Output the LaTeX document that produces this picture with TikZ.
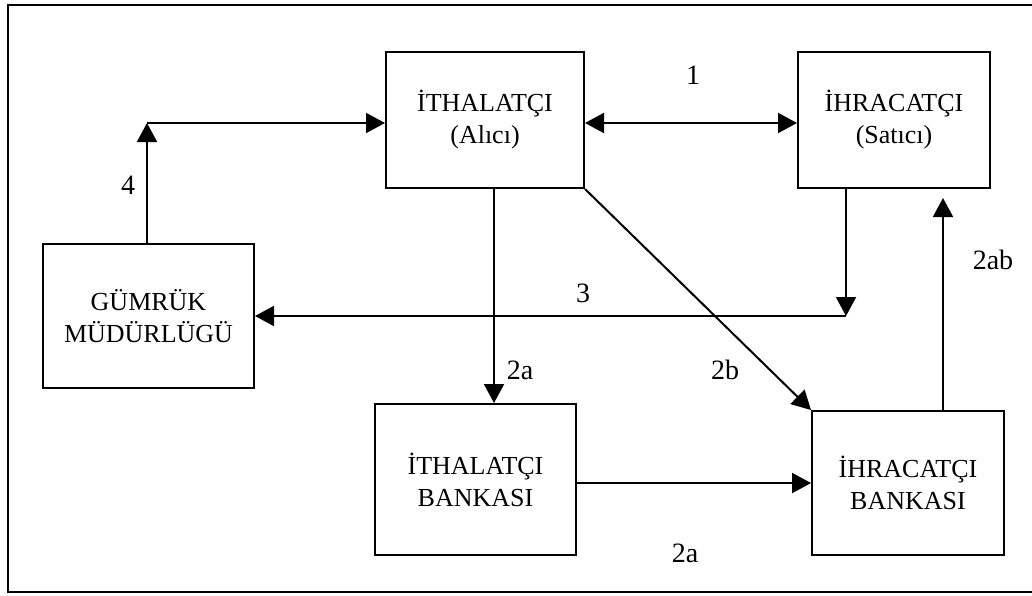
\documentclass[tikz,border=0pt]{standalone}
\usepackage{fontspec}
\setmainfont{Liberation Serif}
\usetikzlibrary{arrows.meta,positioning,calc}

\begin{document}
\begin{tikzpicture}[x=0.5pt,y=-0.5pt,
  >={Triangle[length=9.5pt,width=10pt]},
  kutu/.style={draw,line width=1pt,inner sep=0pt,align=center,
               font=\fontsize{13}{16}\selectfont},
  ok/.style={line width=1pt,->},
  etiket/.style={font=\fontsize{14}{16}\selectfont}]
\useasboundingbox (0,0) rectangle (1032,595);
\draw[line width=1pt] (1032,5) -- (8,5) -- (8,592) -- (1032,592);

\node[kutu,minimum width=99pt,minimum height=68pt] (ith) at (485,120) {İTHALATÇI\\(Alıcı)};
\node[kutu,minimum width=96pt,minimum height=68pt] (ihr) at (894,120) {İHRACATÇI\\(Satıcı)};
\node[kutu,minimum width=105.5pt,minimum height=72pt] (gum) at (148.5,316) {GÜMRÜK\\MÜDÜRLÜGÜ};
\node[kutu,minimum width=100.5pt,minimum height=75.5pt] (ithb) at (475.5,479.5) {İTHALATÇI\\BANKASI};
\node[kutu,minimum width=96pt,minimum height=72pt] (ihrb) at (908,483) {İHRACATÇI\\BANKASI};

\coordinate (k4) at (147,123);
\coordinate (k3) at (846,316);
\coordinate (k2a) at (494,0);
\coordinate (k2ab) at (943,0);

\draw[ok,<->] (ith.east |- k4) -- (ihr.west |- k4);
\draw[ok] (gum.north -| k4) -- (k4);
\draw[ok] (k4) -- (ith.west |- k4);
\draw[ok] (ihr.south -| k3) -- (k3);
\draw[ok] (k3) -- (gum.east |- k3);
\draw[ok] (ith.south -| k2a) -- (ithb.north -| k2a);
\draw[ok] (ith.south east) -- (ihrb.north west);
\draw[ok] (ithb.east |- ihrb.west) -- (ihrb.west);
\draw[ok,shorten >=4.5pt] (ihrb.north -| k2ab) -- (ihr.south -| k2ab);

\node[etiket] (l1) at (693,75) {1};
\node[etiket] (l4) at (128,185) {4};
\node[etiket] (l3) at (583,293) {3};
\node[etiket] (l2a) at (520,370) {2a};
\node[etiket] (l2b) at (725,370) {2b};
\node[etiket] (l2aalt) at (685,553) {2a};
\node[etiket] (l2ab) at (993,260) {2ab};
\end{tikzpicture}
\end{document}
